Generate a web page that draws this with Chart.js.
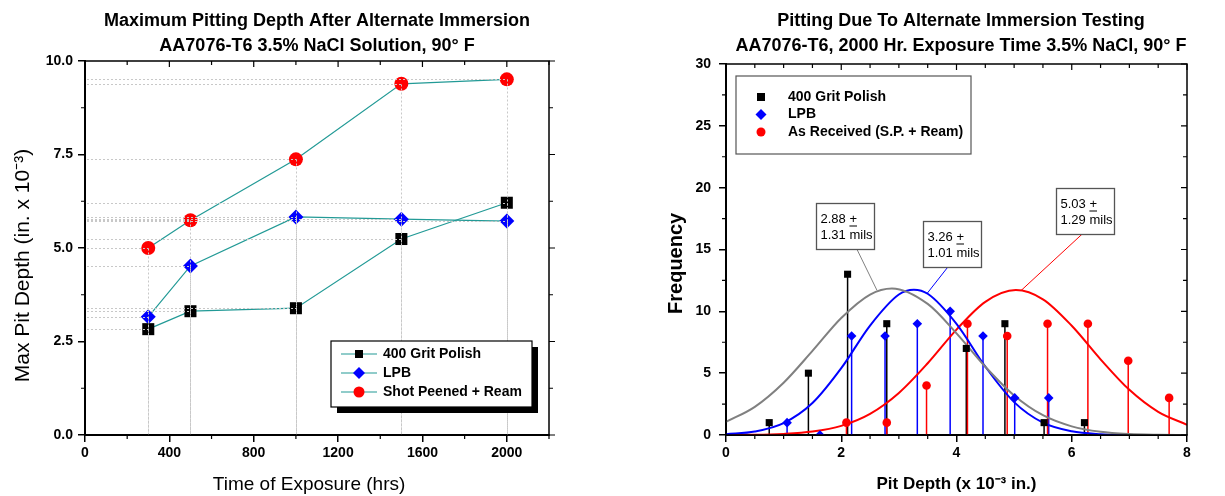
<!DOCTYPE html>
<html>
<head>
<meta charset="utf-8">
<script src="https://cdn.jsdelivr.net/npm/chart.js@4.4.1/dist/chart.umd.min.js"></script>
<style>
  html, body { margin: 0; padding: 0; background: #fff; width: 1225px; height: 496px; overflow: hidden; }
  #graficoTiempo { position: absolute; left: 0; top: 0; }
  #graficoFrecuencia { position: absolute; left: 661px; top: 0; }
</style>
</head>
<body>
<canvas id="graficoTiempo" width="634" height="496" style="width:634px;height:496px"></canvas>
<canvas id="graficoFrecuencia" width="600" height="496" style="width:600px;height:496px"></canvas>
<script>
// Gráfico izquierdo: profundidad máxima de picadura vs tiempo de exposición
const horas = [300, 500, 1000, 1500, 2000];
const grit400 = [2.83, 3.31, 3.39, 5.24, 6.21];
const lpb = [3.16, 4.52, 5.83, 5.77, 5.72];
const shotPeened = [5.00, 5.74, 7.37, 9.39, 9.51];
const ticksTiempo = [0, 400, 800, 1200, 1600, 2000];
const menoresTiempo = [200, 600, 1000, 1400, 1800, 2200];
const ticksProf = [0, 2.5, 5, 7.5, 10];
const menoresProf = [1.25, 3.75, 6.25, 8.75];

// Gráfico derecho: frecuencia vs profundidad (2000 h)
const profGrit = [0.75, 1.43, 2.11, 2.79, 4.17, 4.84, 5.52, 6.22];
const frecGrit = [1, 5, 13, 9, 7, 9, 1, 1];
const profLpb = [1.06, 1.63, 2.18, 2.76, 3.32, 3.89, 4.46, 5.01, 5.60];
const frecLpb = [1, 0, 8, 8, 9, 10, 8, 3, 3];
const profRecibido = [2.09, 2.79, 3.48, 4.19, 4.88, 5.58, 6.28, 6.98, 7.69];
const frecRecibido = [1, 1, 4, 9, 8, 9, 9, 6, 3];

// curvas de ajuste
const curvaGrisX = [0, 0.5, 1, 1.5, 2, 2.5, 2.88, 3.5, 4, 4.5, 5, 5.5, 6, 6.5, 7, 7.5, 8];
const curvaGrisY = [1.06, 2.28, 4.23, 6.80, 9.46, 11.36, 11.85, 10.60, 8.22, 5.52, 3.20, 1.60, 0.70, 0.26, 0.08, 0.02, 0];
const curvaAzulX = [0, 0.5, 1, 1.5, 2, 2.5, 3, 3.26, 3.5, 4, 4.5, 5, 5.5, 6, 6.5, 7, 7.5, 8];
const curvaAzulY = [0.06, 0.28, 0.96, 2.58, 5.40, 8.85, 11.36, 11.75, 11.42, 8.99, 5.53, 2.66, 1.00, 0.30, 0.07, 0.01, 0, 0];
const curvaRojaX = [0, 0.5, 1, 1.5, 2, 2.5, 3, 3.5, 4, 4.5, 5.03, 5.5, 6, 6.5, 7, 7.5, 8];
const curvaRojaY = [0.01, 0.02, 0.09, 0.28, 0.74, 1.71, 3.40, 5.80, 8.52, 10.77, 11.72, 10.97, 8.83, 6.12, 3.65, 1.87, 0.83];

const ticksPit = [0, 2, 4, 6, 8];
const menoresPit = [0.5, 1, 1.5, 2.5, 3, 3.5, 4.5, 5, 5.5, 6.5, 7, 7.5];
const ticksFrec = [0, 5, 10, 15, 20, 25, 30];
const menoresFrec = [2.5, 7.5, 12.5, 17.5, 22.5, 27.5];

const TEAL = '#229a96';
const NEGRO = '#000000';
const AZUL = '#0000ff';
const ROJO = '#ff0000';
const GRIS = '#808080';

Chart.defaults.font.family = "'Liberation Sans', Arial, sans-serif";
Chart.defaults.color = '#000';

const fuenteTicks = { size: 14, weight: 'bold' };
const pares = (xs, ys) => xs.map((v, i) => ({ x: v, y: ys[i] }));

function marcador(ctx, estilo, x, y, r, color) {
  ctx.fillStyle = color;
  ctx.beginPath();
  if (estilo === 'rect') {
    ctx.rect(x - r, y - r, 2 * r, 2 * r);
  } else if (estilo === 'rectRot') {
    ctx.moveTo(x, y - r); ctx.lineTo(x + r, y); ctx.lineTo(x, y + r); ctx.lineTo(x - r, y); ctx.closePath();
  } else {
    ctx.arc(x, y, r, 0, Math.PI * 2);
  }
  ctx.fill();
}

// marco superior/derecho y marcas menores
function dibujarMarco(chart, c) {
  const { ctx, chartArea: a, scales: { x, y } } = chart;
  ctx.save();
  ctx.strokeStyle = '#000';
  ctx.lineWidth = 1.5;
  ctx.strokeRect(a.left, a.top, a.right - a.left, a.bottom - a.top);
  ctx.lineWidth = 1.2;
  ctx.beginPath();
  c.menoresX.forEach(v => {
    const px = x.getPixelForValue(v);
    ctx.moveTo(px, a.bottom); ctx.lineTo(px, a.bottom + 4);
  });
  c.menoresY.forEach(v => {
    const py = y.getPixelForValue(v);
    ctx.moveTo(a.left, py); ctx.lineTo(a.left - 4, py);
  });
  c.ticksX.concat(c.menoresX).forEach(v => {
    const px = x.getPixelForValue(v);
    const l = c.ticksX.includes(v) ? 6 : 4;
    ctx.moveTo(px, a.top); ctx.lineTo(px, a.top + l);
  });
  c.ticksY.concat(c.menoresY).forEach(v => {
    const py = y.getPixelForValue(v);
    const l = c.ticksY.includes(v) ? 6 : 4;
    ctx.moveTo(a.right, py); ctx.lineTo(a.right + c.dirDerecha * l, py);
  });
  ctx.stroke();
  ctx.restore();
}

function dibujarLeyenda(ctx, c) {
  ctx.save();
  if (c.sombra) {
    ctx.fillStyle = '#000';
    ctx.fillRect(c.x + c.sombra, c.y + c.sombra, c.w, c.h);
  }
  ctx.fillStyle = '#fff';
  ctx.fillRect(c.x, c.y, c.w, c.h);
  ctx.strokeStyle = c.borde;
  ctx.lineWidth = 1.2;
  ctx.strokeRect(c.x, c.y, c.w, c.h);
  ctx.font = "bold 14px 'Liberation Sans', Arial, sans-serif";
  ctx.textBaseline = 'middle';
  c.entradas.forEach((e, i) => {
    const yy = c.y + c.primera + i * c.paso;
    if (c.linea) {
      ctx.strokeStyle = TEAL; ctx.lineWidth = 1.2;
      ctx.beginPath(); ctx.moveTo(c.x + 10, yy); ctx.lineTo(c.x + 46, yy); ctx.stroke();
    }
    marcador(ctx, e.estilo, c.x + c.marcaX, yy, e.r, e.color);
    ctx.fillStyle = '#000';
    ctx.fillText(e.texto, c.x + c.textoX, yy);
  });
  ctx.restore();
}

const lineasGuia = {
  id: 'lineasGuia',
  afterDatasetsDraw(chart) {
    const { ctx, scales: { x, y } } = chart;
    ctx.save();
    ctx.strokeStyle = '#c8c8c8';
    ctx.lineWidth = 1;
    ctx.setLineDash([2, 2]);
    [grit400, lpb, shotPeened].forEach(serie => serie.forEach((v, i) => {
      const px = Math.round(x.getPixelForValue(horas[i])) + 0.5;
      const py = Math.round(y.getPixelForValue(v)) + 0.5;
      ctx.beginPath();
      ctx.moveTo(x.left + 2, py); ctx.lineTo(px, py);
      ctx.moveTo(px, py); ctx.lineTo(px, y.bottom);
      ctx.stroke();
    }));
    ctx.restore();
  }
};

const marcoIzq = {
  id: 'marcoIzq',
  afterDraw(chart) {
    dibujarMarco(chart, { ticksX: ticksTiempo, menoresX: menoresTiempo, ticksY: ticksProf, menoresY: menoresProf, dirDerecha: 1 });
    dibujarLeyenda(chart.ctx, {
      x: 331, y: 341, w: 201, h: 66, sombra: 6, borde: '#000', linea: true,
      primera: 13, paso: 19, marcaX: 28, textoX: 52,
      entradas: [
        { texto: '400 Grit Polish', estilo: 'rect', r: 4, color: NEGRO },
        { texto: 'LPB', estilo: 'rectRot', r: 6, color: AZUL },
        { texto: 'Shot Peened + Ream', estilo: 'circle', r: 5.5, color: ROJO }
      ]
    });
  }
};

new Chart(document.getElementById('graficoTiempo'), {
  type: 'line',
  data: {
    datasets: [
      { label: '400 Grit Polish', data: pares(horas, grit400), borderColor: TEAL, borderWidth: 1.2,
        pointStyle: 'rect', pointRadius: 8.5, pointBackgroundColor: NEGRO, pointBorderColor: NEGRO, pointBorderWidth: 0 },
      { label: 'LPB', data: pares(horas, lpb), borderColor: TEAL, borderWidth: 1.2,
        pointStyle: 'rectRot', pointRadius: 7.5, pointBackgroundColor: AZUL, pointBorderColor: AZUL, pointBorderWidth: 0 },
      { label: 'Shot Peened + Ream', data: pares(horas, shotPeened), borderColor: TEAL, borderWidth: 1.2,
        pointStyle: 'circle', pointRadius: 7, pointBackgroundColor: ROJO, pointBorderColor: ROJO, pointBorderWidth: 0 }
    ]
  },
  options: {
    responsive: false,
    animation: false,
    layout: { padding: 0 },
    plugins: {
      legend: { display: false },
      tooltip: { enabled: false },
      title: {
        display: true,
        text: ['Maximum Pitting Depth After Alternate Immersion', 'AA7076-T6 3.5% NaCl Solution, 90° F'],
        font: { size: 18, weight: 'bold', lineHeight: 25 / 18 },
        padding: { top: 9, bottom: 2 },
        color: '#000'
      }
    },
    scales: {
      x: {
        type: 'linear', min: 0, max: 2200,
        afterBuildTicks: s => { s.ticks = ticksTiempo.map(v => ({ value: v })); },
        ticks: { font: fuenteTicks, padding: 3, maxRotation: 0, autoSkip: false, callback: v => String(v) },
        grid: { drawOnChartArea: false, tickLength: 7, color: '#000', lineWidth: 1.5 },
        border: { color: '#000', width: 2 },
        // espacios finales para correr el título como en el original
        title: { display: true, text: 'Time of Exposure (hrs)   ', font: { size: 19 }, padding: { top: 0, bottom: 0 } },
        afterFit: s => { s.height = 61; }
      },
      y: {
        type: 'linear', min: 0, max: 10,
        afterBuildTicks: s => { s.ticks = ticksProf.map(v => ({ value: v })); },
        ticks: { font: fuenteTicks, padding: 5, autoSkip: false, callback: v => v.toFixed(1) },
        grid: { drawOnChartArea: false, tickLength: 7, color: '#000', lineWidth: 1.5 },
        border: { color: '#000', width: 2 },
        title: { display: true, text: 'Max Pit Depth (in. x 10⁻³)      ', font: { size: 21 }, padding: { top: 11, bottom: 0 } },
        afterFit: s => { s.width = 85; }
      },
      y2: {
        type: 'linear', position: 'right', min: 0, max: 1,
        ticks: { display: false }, grid: { display: false }, border: { display: false },
        afterFit: s => { s.width = 85; }
      }
    }
  },
  plugins: [lineasGuia, marcoIzq]
});

// ---------- gráfico derecho ----------
const notas = [
  { media: '2.88', desv: '1.31 mils', caja: [1.56, 18.76], desde: [2.27, 15.04], hasta: [2.62, 11.70], color: GRIS },
  { media: '3.26', desv: '1.01 mils', caja: [3.42, 17.30], desde: [3.85, 13.58], hasta: [3.49, 11.45], color: AZUL },
  { media: '5.03', desv: '1.29 mils', caja: [5.73, 19.97], desde: [6.20, 16.33], hasta: [5.12, 11.68], color: ROJO }
];

const tallos = {
  id: 'tallos',
  beforeDatasetsDraw(chart) {
    const { ctx, scales: { x, y } } = chart;
    ctx.save();
    ctx.lineWidth = 1.5;
    [[profGrit, frecGrit, NEGRO], [profLpb, frecLpb, AZUL], [profRecibido, frecRecibido, ROJO]].forEach(([xs, ys, color]) => {
      ctx.strokeStyle = color;
      xs.forEach((v, i) => {
        const px = x.getPixelForValue(v);
        ctx.beginPath();
        ctx.moveTo(px, y.getPixelForValue(0));
        ctx.lineTo(px, y.getPixelForValue(ys[i]));
        ctx.stroke();
      });
    });
    ctx.restore();
  }
};

const marcoDer = {
  id: 'marcoDer',
  afterDraw(chart) {
    const { ctx, scales: { x, y } } = chart;
    dibujarMarco(chart, { ticksX: ticksPit, menoresX: menoresPit, ticksY: ticksFrec, menoresY: menoresFrec, dirDerecha: -1 });
    dibujarLeyenda(ctx, {
      x: 75, y: 76, w: 235, h: 78, sombra: 0, borde: '#555', linea: false,
      primera: 21, paso: 17.5, marcaX: 25, textoX: 52,
      entradas: [
        { texto: '400 Grit Polish', estilo: 'rect', r: 4, color: NEGRO },
        { texto: 'LPB', estilo: 'rectRot', r: 5.5, color: AZUL },
        { texto: 'As Received (S.P. + Ream)', estilo: 'circle', r: 4.5, color: ROJO }
      ]
    });
    // cuadros de media ± desviación
    ctx.save();
    ctx.font = "13px 'Liberation Sans', Arial, sans-serif";
    ctx.textBaseline = 'middle';
    notas.forEach(n => {
      const bx = Math.round(x.getPixelForValue(n.caja[0])) + 0.5;
      const by = Math.round(y.getPixelForValue(n.caja[1])) + 0.5;
      const w = 58, h = 46;
      ctx.strokeStyle = n.color; ctx.lineWidth = 1;
      ctx.beginPath();
      ctx.moveTo(x.getPixelForValue(n.desde[0]), y.getPixelForValue(n.desde[1]));
      ctx.lineTo(x.getPixelForValue(n.hasta[0]), y.getPixelForValue(n.hasta[1]));
      ctx.stroke();
      ctx.fillStyle = '#fff';
      ctx.fillRect(bx, by, w, h);
      ctx.strokeStyle = '#555'; ctx.lineWidth = 1.3;
      ctx.strokeRect(bx, by, w, h);
      ctx.fillStyle = '#000';
      const t1 = n.media + ' ';
      ctx.fillText(t1, bx + 4, by + 16);
      const ax = bx + 4 + ctx.measureText(t1).width;
      ctx.fillText('+', ax, by + 16);
      const pw = ctx.measureText('+').width;
      ctx.fillRect(ax, by + 22, pw, 1);
      ctx.fillText(n.desv, bx + 4, by + 32);
    });
    ctx.restore();
  }
};

new Chart(document.getElementById('graficoFrecuencia'), {
  type: 'scatter',
  data: {
    datasets: [
      { label: '400 Grit Polish', data: pares(profGrit, frecGrit), pointStyle: 'rect', pointRadius: 5,
        pointBackgroundColor: NEGRO, pointBorderColor: NEGRO, pointBorderWidth: 0 },
      { label: 'LPB', data: pares(profLpb, frecLpb), pointStyle: 'rectRot', pointRadius: 4.8,
        pointBackgroundColor: AZUL, pointBorderColor: AZUL, pointBorderWidth: 0 },
      { label: 'As Received (S.P. + Ream)', data: pares(profRecibido, frecRecibido), pointStyle: 'circle', pointRadius: 4.3,
        pointBackgroundColor: ROJO, pointBorderColor: ROJO, pointBorderWidth: 0 },
      { label: 'ajuste 400', data: pares(curvaGrisX, curvaGrisY), showLine: true, borderColor: GRIS, borderWidth: 2,
        pointRadius: 0, cubicInterpolationMode: 'monotone' },
      { label: 'ajuste LPB', data: pares(curvaAzulX, curvaAzulY), showLine: true, borderColor: AZUL, borderWidth: 2,
        pointRadius: 0, cubicInterpolationMode: 'monotone' },
      { label: 'ajuste recibido', data: pares(curvaRojaX, curvaRojaY), showLine: true, borderColor: ROJO, borderWidth: 2,
        pointRadius: 0, cubicInterpolationMode: 'monotone' }
    ]
  },
  options: {
    responsive: false,
    animation: false,
    layout: { padding: 0 },
    plugins: {
      legend: { display: false },
      tooltip: { enabled: false },
      title: {
        display: true,
        text: ['Pitting Due To Alternate Immersion Testing', 'AA7076-T6, 2000 Hr. Exposure Time 3.5% NaCl, 90° F'],
        font: { size: 18, weight: 'bold', lineHeight: 25 / 18 },
        padding: { top: 9, bottom: 5 },
        color: '#000'
      }
    },
    scales: {
      x: {
        type: 'linear', min: 0, max: 8,
        afterBuildTicks: s => { s.ticks = ticksPit.map(v => ({ value: v })); },
        ticks: { font: fuenteTicks, padding: 3, maxRotation: 0, autoSkip: false, callback: v => String(v) },
        grid: { drawOnChartArea: false, tickLength: 7, color: '#000', lineWidth: 1.5 },
        border: { color: '#000', width: 2 },
        title: { display: true, text: 'Pit Depth (x 10⁻³ in.)', font: { size: 17, weight: 'bold' }, padding: { top: 0, bottom: 1 } },
        afterFit: s => { s.height = 61; }
      },
      y: {
        type: 'linear', min: 0, max: 30,
        afterBuildTicks: s => { s.ticks = ticksFrec.map(v => ({ value: v })); },
        ticks: { font: fuenteTicks, padding: 8, autoSkip: false, callback: v => String(v) },
        grid: { drawOnChartArea: false, tickLength: 7, color: '#000', lineWidth: 1.5 },
        border: { color: '#000', width: 2 },
        title: { display: true, text: 'Frequency     ', font: { size: 20, weight: 'bold' }, padding: { top: 3, bottom: 0 } },
        afterFit: s => { s.width = 65; }
      },
      y2: {
        type: 'linear', position: 'right', min: 0, max: 1,
        ticks: { display: false }, grid: { display: false }, border: { display: false },
        afterFit: s => { s.width = 74; }
      }
    }
  },
  plugins: [tallos, marcoDer]
});
</script>
</body>
</html>
